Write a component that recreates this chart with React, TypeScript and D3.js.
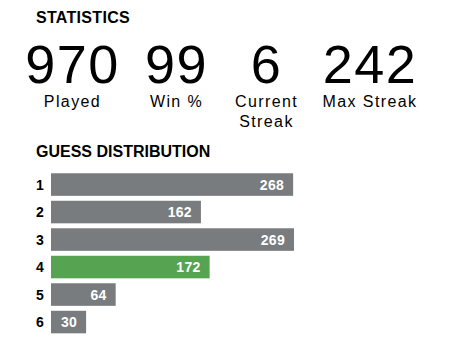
import React from "react";
import * as d3 from "d3";

const statValues = [970, 99, 6, 242];
const statLabels = [["Played"], ["Win %"], ["Current", "Streak"], ["Max Streak"]];
const guesses = ["1", "2", "3", "4", "5", "6"];
const counts = [268, 162, 269, 172, 64, 30];
const highlightGuess = "4";

const W = 458;
const H = 356;
const FONT = "'Liberation Sans', Arial, Helvetica, sans-serif";
const statCenters = [72.5, 176.5, 266.5, 370];

export default function App() {
  const x0 = 51;
  const x = d3
    .scaleLinear()
    .domain([0, d3.max(counts) as number])
    .range([9, 243]);
  const y = d3
    .scaleBand<string>()
    .domain(guesses)
    .range([170.8, 335.8])
    .paddingInner(0.18)
    .paddingOuter(0.09);

  return (
    <svg
      width={W}
      height={H}
      style={{ position: "fixed", left: 0, top: 0, background: "#fff" }}
      fontFamily={FONT}
    >
      <text x={36} y={23} fontSize={16} fontWeight={700} letterSpacing={0.3} fill="#000">
        STATISTICS
      </text>
      {statValues.map((v, i) => (
        <g key={i} transform={`translate(${statCenters[i]},0)`}>
          <text
            x={0}
            y={83}
            textAnchor="middle"
            fontSize={54}
            letterSpacing={1.5}
            fill="#000"
          >
            {v}
          </text>
          {statLabels[i].map((l, j) => (
            <text
              key={j}
              x={0}
              y={107 + j * 20}
              textAnchor="middle"
              fontSize={16}
              letterSpacing={1.4}
              fill="#000"
            >
              {l}
            </text>
          ))}
        </g>
      ))}
      <text x={36} y={157} fontSize={16} fontWeight={700} fill="#000">
        GUESS DISTRIBUTION
      </text>
      {guesses.map((g, i) => {
        const yy = y(g) as number;
        const bw = y.bandwidth();
        const w = x(counts[i]);
        return (
          <g key={g}>
            <text
              x={40}
              y={yy + bw / 2}
              dy="0.36em"
              textAnchor="middle"
              fontSize={14}
              fontWeight={700}
              fill="#000"
            >
              {g}
            </text>
            <rect
              x={x0}
              y={yy}
              width={w}
              height={bw}
              fill={g === highlightGuess ? "#56a351" : "#787c7e"}
            />
            <text
              x={x0 + w - 9}
              y={yy + bw / 2}
              dy="0.36em"
              textAnchor="end"
              fontSize={14}
              fontWeight={700}
              letterSpacing={0.3}
              fill="#fff"
            >
              {counts[i]}
            </text>
          </g>
        );
      })}
    </svg>
  );
}
